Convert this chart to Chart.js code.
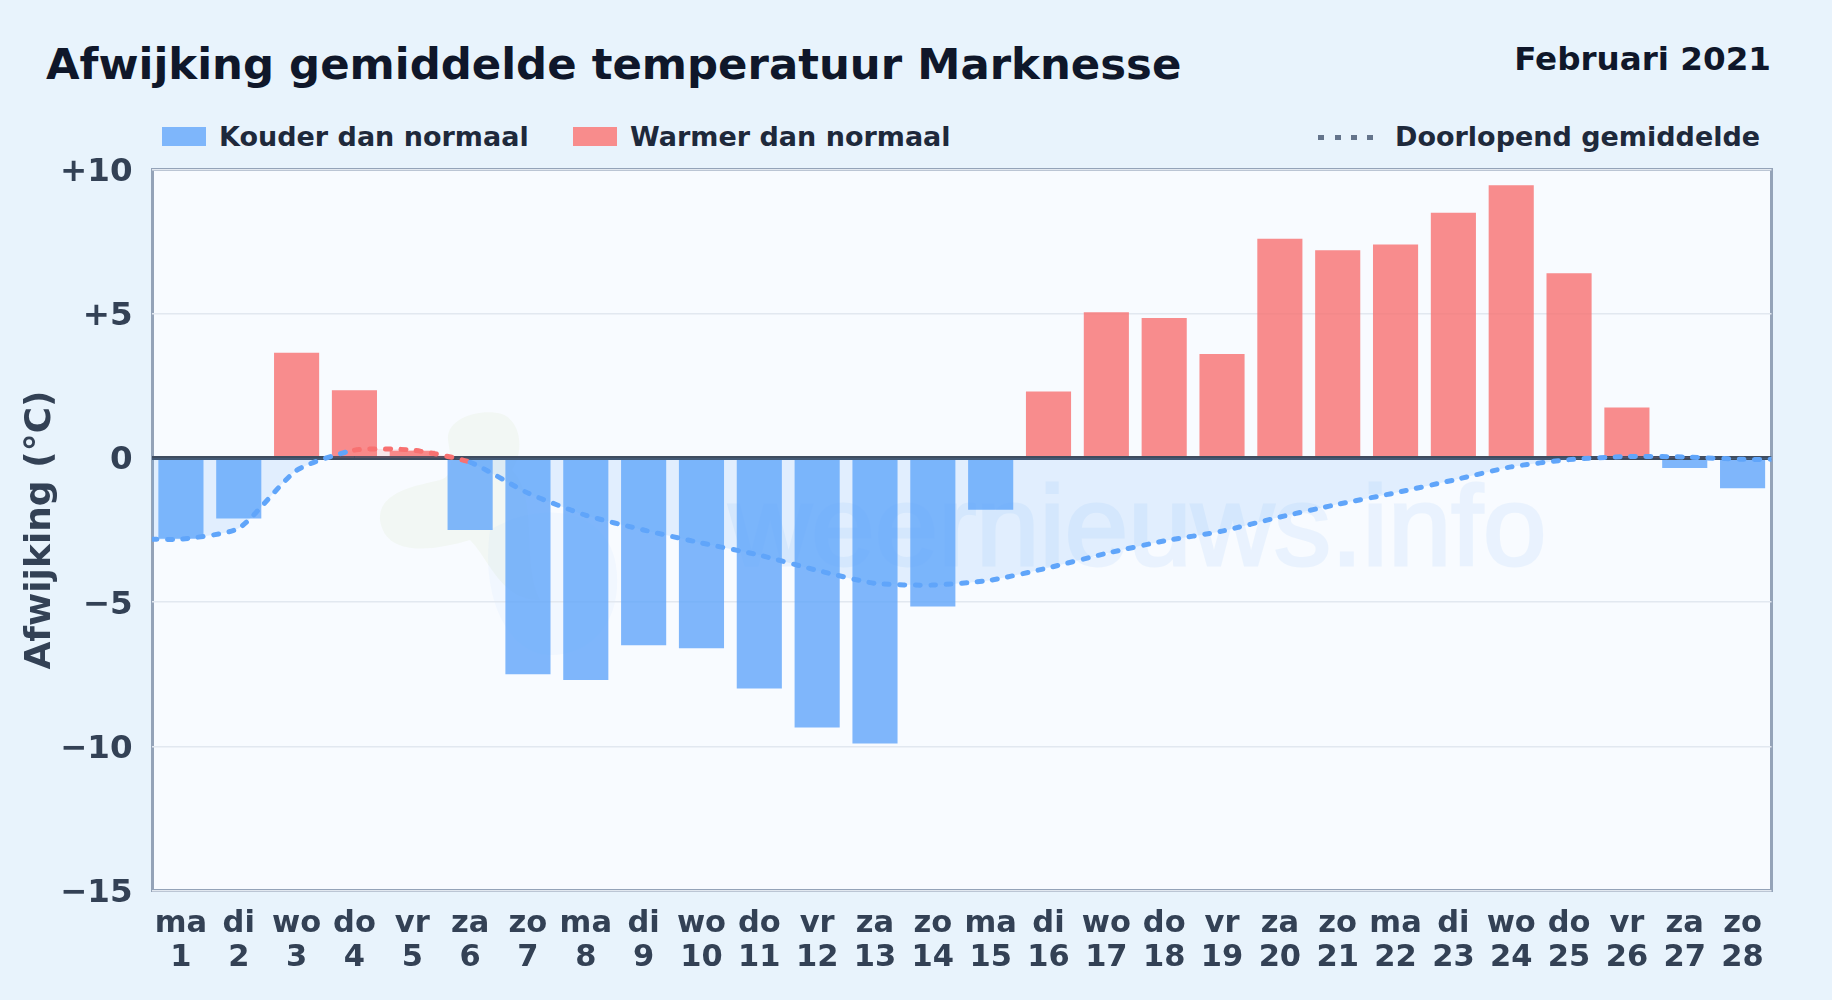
<!DOCTYPE html>
<html lang="nl">
<head>
<meta charset="utf-8">
<title>Afwijking gemiddelde temperatuur Marknesse</title>
<script src="https://cdn.jsdelivr.net/npm/chart.js@4/dist/chart.umd.min.js"></script>
<style>
    html, body { margin: 0; padding: 0; width: 1832px; height: 1000px; overflow: hidden; background: #e8f3fc; }
    body { position: relative; font-family: 'DejaVu Sans', sans-serif; font-weight: bold; }
    .abs { position: absolute; line-height: 1; white-space: nowrap; }
    #title { left: 46px; top: 43px; font-size: 43.4px; color: #0f172a; }
    #period { right: 61px; top: 43px; font-size: 32.6px; color: #0f172a; }
    .legend { top: 123px; font-size: 27px; color: #1e293b; }
    .swatch { position: absolute; top: 127px; width: 44px; height: 19px; }
    .dot { position: absolute; top: 135px; width: 6px; height: 5px; background: #64748b; }
    #plotBg { position: absolute; left: 151px; top: 168px; width: 1616px; height: 718px; background: #f8fbff; border: 3px solid #94a3b8; }
    #watermark { position: absolute; left: 0; top: 0; }
    #chart { position: absolute; left: 0; top: 0; }
</style>
</head>
<body>
<div class="abs" id="title">Afwijking gemiddelde temperatuur Marknesse</div>
<div class="abs" id="period">Februari 2021</div>

<div class="swatch" style="left:162px;background:#7eb6fb"></div>
<div class="abs legend" style="left:219px">Kouder dan normaal</div>
<div class="swatch" style="left:573px;background:#f88c8c"></div>
<div class="abs legend" style="left:630px">Warmer dan normaal</div>
<div class="dot" style="left:1318px"></div>
<div class="dot" style="left:1335px"></div>
<div class="dot" style="left:1351px"></div>
<div class="dot" style="left:1367px"></div>
<div class="abs legend" style="left:1395px">Doorlopend gemiddelde</div>

<div id="plotBg"></div>
<svg id="watermark" width="1832" height="1000">
    <path d="M448 440 C446 418 480 408 502 414 C522 422 524 452 512 470 C540 500 520 560 540 600 C500 600 490 560 470 540 C430 552 385 556 380 520 C378 492 415 486 440 480 C456 476 450 455 448 440 Z" fill="#a3c76a" opacity="0.07"/>
    <path d="M490 530 C530 505 600 500 615 560 C625 610 600 655 550 655 C510 655 480 600 490 530 Z" fill="#3b82f6" opacity="0.035"/>
    <text x="729" y="565" font-family="'Liberation Sans', sans-serif" font-weight="normal" font-size="114" fill="#60a5fa" stroke="#60a5fa" stroke-width="3" opacity="0.09">weernieuws.info</text>
</svg>
<canvas id="chart" width="1832" height="1000" style="width:1832px;height:1000px"></canvas>

<script>
// Values
const dayNames = ['ma', 'di', 'wo', 'do', 'vr', 'za', 'zo', 'ma', 'di', 'wo', 'do', 'vr', 'za', 'zo',
    'ma', 'di', 'wo', 'do', 'vr', 'za', 'zo', 'ma', 'di', 'wo', 'do', 'vr', 'za', 'zo'];
const dayNumbers = ['1', '2', '3', '4', '5', '6', '7', '8', '9', '10', '11', '12', '13', '14',
    '15', '16', '17', '18', '19', '20', '21', '22', '23', '24', '25', '26', '27', '28'];
const deviations = [-2.8, -2.1, 3.65, 2.35, 0.25, -2.5, -7.5, -7.7, -6.5, -6.6, -8.0, -9.35, -9.9, -5.15,
    -1.8, 2.3, 5.05, 4.85, 3.6, 7.6, 7.2, 7.4, 8.5, 9.45, 6.4, 1.75, -0.35, -1.05];

// Running mean reaches both plot edges, hence half-day positions at the ends
const meanDays = [0.5, 1, 2, 3, 4, 5, 6, 7, 8, 9, 10, 11, 12, 13, 14,
    15, 16, 17, 18, 19, 20, 21, 22, 23, 24, 25, 26, 27, 28, 28.5];
const meanValues = [-2.82, -2.82, -2.44, -0.43, 0.27, 0.27, -0.15, -1.22, -1.99, -2.5, -2.95, -3.37, -3.9, -4.35, -4.41,
    -4.24, -3.81, -3.31, -2.88, -2.54, -2.05, -1.61, -1.21, -0.77, -0.31, -0.06, 0.05, 0.03, -0.05, -0.05];

const baselineDays = [0.5, 28.5];
const baselineValues = [0, 0];

const yMin = -15;
const yMax = 10;
const yStep = 5;

const BLUE = '#60a5fa';
const RED = '#f87171';
const TICK_COLOR = '#334155';

new Chart(document.getElementById('chart'), {
    type: 'bar',
    data: {
        labels: dayNames.map((d, i) => [d, dayNumbers[i]]),
        datasets: [
            {
                type: 'line',
                label: 'Doorlopend gemiddelde',
                data: meanDays.map((d, i) => ({ x: d, y: meanValues[i] })),
                xAxisID: 'xLine',
                order: 1,
                borderColor: BLUE,
                borderWidth: 5,
                borderDash: [5, 10.5],
                borderCapStyle: 'round',
                pointRadius: 0,
                tension: 0.2,
                // a segment takes its colour from its first point; values hugging zero stay blue
                segment: { borderColor: ctx => ctx.p0.parsed.y > 0.1 ? RED : BLUE },
                fill: {
                    target: { value: 0 },
                    above: 'rgba(248, 113, 113, 0.15)',
                    below: 'rgba(96, 165, 250, 0.15)'
                }
            },
            {
                type: 'line',
                label: 'Nullijn',
                data: baselineDays.map((d, i) => ({ x: d, y: baselineValues[i] })),
                xAxisID: 'xLine',
                order: 2,
                borderColor: '#3f4c5f',
                borderWidth: 4,
                pointRadius: 0
            },
            {
                label: 'Afwijking',
                data: deviations,
                xAxisID: 'x',
                order: 3,
                grouped: false,
                backgroundColor: ctx => ctx.raw < 0 ? 'rgba(96, 165, 250, 0.8)' : 'rgba(248, 113, 113, 0.8)',
                barPercentage: 0.78,
                categoryPercentage: 1,
                borderWidth: 0
            }
        ]
    },
    options: {
        responsive: false,
        animation: false,
        layout: { autoPadding: false, padding: { top: 169.5, right: 60.5, bottom: 0, left: 0 } },
        plugins: { legend: { display: false }, tooltip: { enabled: false } },
        scales: {
            x: {
                grid: { display: false },
                border: { display: false },
                afterFit: scale => { scale.height = 109.5; },
                ticks: {
                    autoSkip: false,
                    maxRotation: 0,
                    padding: 8.5,
                    color: TICK_COLOR,
                    font: { family: "'DejaVu Sans'", size: 30.5, weight: 'bold', lineHeight: '34px' }
                }
            },
            xLine: { type: 'linear', min: 0.5, max: 28.5, display: false, offset: false },
            y: {
                min: yMin,
                max: yMax,
                afterFit: scale => { scale.width = 152; },
                border: { display: false },
                grid: { color: '#e2e8f0', lineWidth: 1.5, drawTicks: false },
                ticks: {
                    stepSize: yStep,
                    padding: 19.5,
                    color: TICK_COLOR,
                    // empty first line nudges the label down, as in the original
                    font: { family: "'DejaVu Sans'", size: 32.5, weight: 'bold', lineHeight: '6px' },
                    callback: v => ['', v > 0 ? '+' + v : v < 0 ? '\u2212' + Math.abs(v) : '0']
                },
                title: {
                    display: true,
                    text: 'Afwijking (°C)',
                    color: TICK_COLOR,
                    padding: { top: 19, bottom: 0 },
                    font: { family: "'DejaVu Sans'", size: 36, weight: 'bold' }
                }
            }
        }
    }
});
</script>
</body>
</html>
